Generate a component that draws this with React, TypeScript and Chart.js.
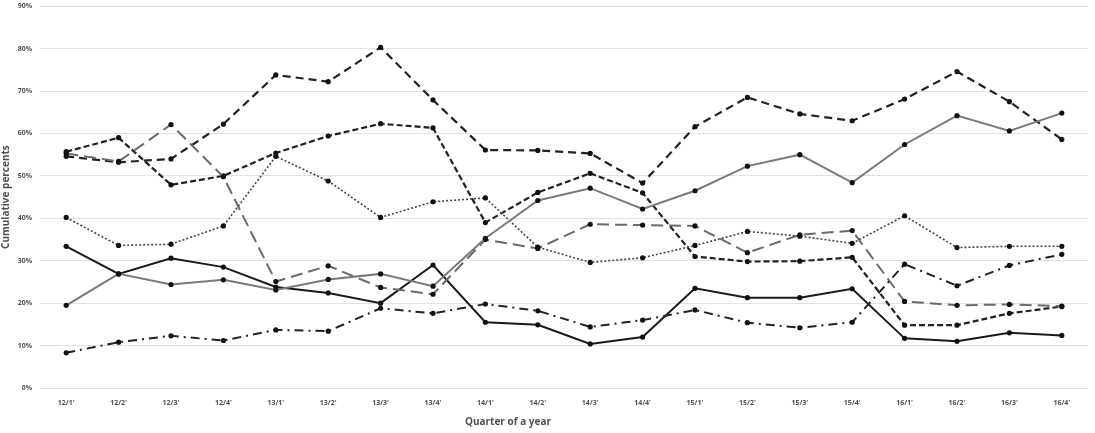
import React, { useEffect, useRef } from "react";
import { Chart, registerables } from "chart.js";

Chart.register(...registerables);

const categories = [
  "12/1'", "12/2'", "12/3'", "12/4'", "13/1'", "13/2'", "13/3'", "13/4'",
  "14/1'", "14/2'", "14/3'", "14/4'", "15/1'", "15/2'", "15/3'", "15/4'",
  "16/1'", "16/2'", "16/3'", "16/4'",
];

const yTicks = [0, 10, 20, 30, 40, 50, 60, 70, 80, 90];

const solidBlack = [33.4, 26.9, 30.6, 28.5, 23.8, 22.4, 20.0, 29.0, 15.5, 14.9, 10.4, 12.0, 23.5, 21.3, 21.3, 23.4, 11.7, 11.0, 13.0, 12.4];
const solidGray = [19.5, 26.9, 24.4, 25.5, 23.1, 25.6, 26.9, 24.0, 35.3, 44.2, 47.1, 42.2, 46.5, 52.3, 55.0, 48.4, 57.4, 64.2, 60.6, 64.8];
const dotted = [40.2, 33.6, 33.9, 38.2, 54.6, 48.8, 40.2, 43.9, 44.8, 33.2, 29.6, 30.7, 33.6, 36.9, 35.8, 34.1, 40.6, 33.1, 33.4, 33.4];
const dashDot = [8.3, 10.8, 12.3, 11.2, 13.7, 13.4, 18.8, 17.6, 19.8, 18.2, 14.4, 16.0, 18.4, 15.4, 14.2, 15.5, 29.2, 24.1, 28.9, 31.5];
const longDash = [55.3, 53.4, 62.1, 49.8, 25.1, 28.8, 23.7, 22.1, 35.0, 32.9, 38.6, 38.4, 38.2, 31.9, 36.1, 37.1, 20.4, 19.5, 19.7, 19.3];
const shortDash = [55.7, 59.0, 47.9, 50.0, 55.4, 59.4, 62.3, 61.3, 39.0, 46.1, 50.6, 46.0, 31.0, 29.8, 29.9, 30.8, 14.8, 14.8, 17.6, 19.2];
const topDash = [54.6, 53.2, 54.0, 62.2, 73.8, 72.2, 80.3, 67.9, 56.1, 56.0, 55.3, 48.3, 61.6, 68.5, 64.6, 63.0, 68.1, 74.6, 67.5, 58.6];

const TEXT = "#505050";
const FONT = "'Open Sans', 'Noto Sans', sans-serif";

export default function App() {
  const ref = useRef<HTMLCanvasElement | null>(null);

  useEffect(() => {
    document.body.style.margin = "0";
    const ctx = ref.current;
    if (!ctx) return;
    const mk = (label: string, data: number[], color: string, width: number, dash: number[]) => ({
      label,
      data,
      borderColor: color,
      backgroundColor: "#111",
      borderWidth: width,
      borderDash: dash,
      pointRadius: 2.6,
      pointBackgroundColor: "#111",
      pointBorderWidth: 0,
      tension: 0,
      fill: false,
    });
    const chart = new Chart(ctx, {
      type: "line",
      data: {
        labels: categories,
        datasets: [
          mk("A", solidGray, "#7a7a7a", 2, []),
          mk("B", dashDot, "#222", 2, [9, 5, 2, 5]),
          mk("C", dotted, "#444", 1.6, [2, 2]),
          mk("D", longDash, "#6a6a6a", 2, [12, 6]),
          mk("E", shortDash, "#222", 2.2, [6, 3]),
          mk("F", topDash, "#222", 2.2, [8, 5]),
          mk("G", solidBlack, "#1a1a1a", 2, []),
        ],
      },
      options: {
        animation: false,
        responsive: false,
        maintainAspectRatio: false,
        layout: { autoPadding: false, padding: { top: 6, right: 7, left: 0, bottom: 0 } },
        plugins: { legend: { display: false }, tooltip: { enabled: false } },
        scales: {
          x: {
            type: "category",
            offset: true,
            grid: { display: false, drawTicks: false },
            border: { display: false },
            ticks: {
              color: TEXT,
              font: { family: FONT, size: 7, weight: "bold" },
              padding: 11,
              maxRotation: 0,
              autoSkip: false,
            },
            afterFit: (s: any) => { s.height = 45; },
          },
          y: {
            min: 0,
            max: 90,
            afterBuildTicks: (s: any) => { s.ticks = yTicks.map((v) => ({ value: v })); },
            grid: { color: "#e2e2e2", lineWidth: 1, drawTicks: true, tickLength: 6, tickColor: "rgba(0,0,0,0)" },
            border: { display: false },
            ticks: {
              color: TEXT,
              font: { family: FONT, size: 7, weight: "bold" },
              padding: 2,
              callback: (v: any) => v + "%",
            },
            title: {
              display: true,
              text: "Cumulative percents",
              color: TEXT,
              font: { family: FONT, size: 10, weight: "bold" },
              padding: { top: 0, bottom: 0 },
            },
            afterFit: (s: any) => { s.width = 40; },
          },
        },
      },
    });
    return () => chart.destroy();
  }, []);

  return (
    <div style={{ position: "relative", width: 1095, height: 433, background: "#fff" }}>
      <canvas ref={ref} width={1095} height={433} style={{ display: "block", width: 1095, height: 433 }} />
      <div
        style={{
          position: "absolute",
          left: 465,
          top: 414,
          fontFamily: FONT,
          fontWeight: "bold",
          fontSize: 10,
          color: TEXT,
          whiteSpace: "nowrap",
          lineHeight: "14px",
        }}
      >
        Quarter of a year
      </div>
    </div>
  );
}
